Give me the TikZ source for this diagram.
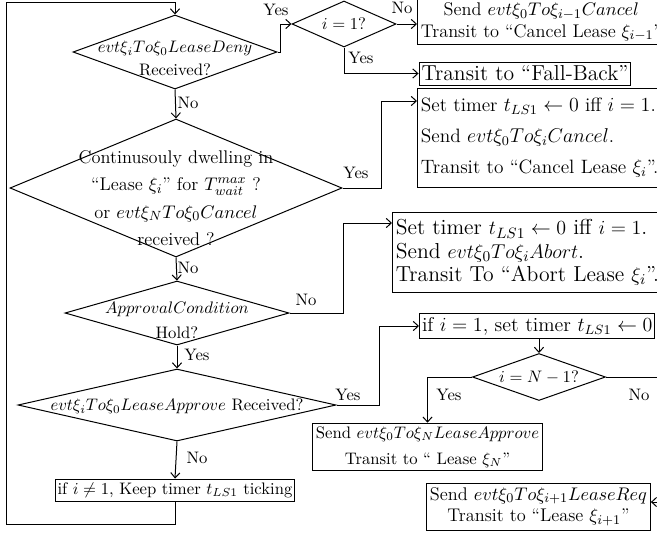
\documentclass[tikz,border=0pt]{standalone}
\usepackage{amsmath}
\usepackage{tikz}
\usetikzlibrary{positioning, shapes.geometric, arrows.meta}
\tikzset{>={Straight Barb[length=3pt,width=5.5pt]}}
\tikzset{
    decision/.style = {diamond, draw, inner sep=0pt},
    dtext/.style = {align=center, inner sep=0pt, font=\fontsize{10}{14}\selectfont},
    process/.style = {rectangle, draw, inner sep=2pt, align=center},
    lbl/.style = {inner sep=0pt, font=\fontsize{10}{12}\selectfont}
}

\begin{document}
\begin{tikzpicture}[x=0.6pt, y=-0.6pt, line width=0.6pt]
		\useasboundingbox (0,0) rectangle (657,533);
		\clip (0,0) rectangle (657,533);
		% decisions
		\node (deny) [decision, minimum width=122.4pt, minimum height=44.4pt] at (175,52) {};
		\node (denytxt) [dtext] at ([yshift=-4pt]deny) {$evt\xi_i To\xi_0 LeaseDeny$\\Received?};
		\node (ione) [decision, minimum width=62.4pt, minimum height=27.6pt] at (344,24) {};
		\node (ionetxt) [dtext] at (ione) {$i=1?$};
		\node (dwell) [decision, minimum width=199.2pt, minimum height=82.8pt] at (176,188) {};
		\node (dwelltxt) [dtext, font=\fontsize{11}{16.5}\selectfont] at ([yshift=-6pt]dwell) {Continusouly dwelling in\\``Lease $\xi_i$'' for $T_{wait}^{max}$ ?\\or $evt\xi_N To\xi_0 Cancel$\\received ?};
		\node (approval) [decision, minimum width=134.4pt, minimum height=38.4pt] at (177,313) {};
		\node (approvaltxt) [dtext, font=\fontsize{10}{15}\selectfont] at ([yshift=-4.5pt]approval) {$ApprovalCondition$\\Hold?};
		\node (approve) [decision, minimum width=190.8pt, minimum height=43.2pt] at (177,405) {};
		\node (approvetxt) [dtext] at ([yshift=-1pt]approve) {$evt\xi_i To\xi_0 LeaseApprove$ Received?};
		\node (ilast) [decision, minimum width=79.8pt, minimum height=28.2pt] at (539,377) {};
		\node (ilasttxt) [dtext] at (ilast) {$i=N-1?$};
		% actions
		\node (cancelprev) [process, anchor=west, minimum height=26.4pt, font=\fontsize{11}{13}\selectfont] at (417,22) {Send $evt\xi_0 To\xi_{i-1}Cancel$\\Transit to ``Cancel Lease $\xi_{i-1}$''};
		\node (fallback) [process, inner sep=1.5pt, minimum height=13.8pt, font=\fontsize{13}{15}\selectfont] at (525,73.5) {Transit to ``Fall-Back''};
		\node (cancelcur) [process, align=left, anchor=north west, inner sep=2pt, minimum height=59.4pt, font=\fontsize{11.6}{18.6}\selectfont] at (417,88) {Set timer $t_{LS1}\leftarrow 0$ iff $i=1$.\\Send $evt\xi_0 To\xi_i Cancel$.\\Transit to ``Cancel Lease $\xi_i$''.};
		\node (abort) [process, align=left, anchor=north west, inner sep=2pt, minimum height=48pt, font=\fontsize{13}{14}\selectfont] at (392,212) {Set timer $t_{LS1}\leftarrow 0$ iff $i=1$.\\Send $evt\xi_0 To\xi_i Abort$.\\Transit To ``Abort Lease $\xi_i$''.};
		\node (settimer) [process, anchor=west, inner sep=1.5pt, minimum height=15pt, font=\fontsize{12}{14}\selectfont] at (419,326) {if $i=1$, set timer $t_{LS1}\leftarrow 0$};
		\node (sendN) [process, minimum height=27.6pt, font=\fontsize{10}{15.6}\selectfont] at (427.5,447) {Send $evt\xi_0 To\xi_N LeaseApprove$\\Transit to `` Lease $\xi_N$''};
		\node (keep) [process, inner sep=1.5pt, minimum height=13.2pt, font=\fontsize{10}{12}\selectfont] at (175,490) {if $i\neq 1$, Keep timer $t_{LS1}$ ticking};
		\node (sendnext) [process, minimum height=28.2pt, font=\fontsize{11}{13}\selectfont] at (538.5,506.5) {Send $evt\xi_0 To\xi_{i+1}LeaseReq$\\Transit to ``Lease $\xi_{i+1}$''};
		% free ends
		\coordinate (loopbl) at (6,524);
		\coordinate (looptl) at (6,2);
		\coordinate (offout) at (670,377);
		\coordinate (offin) at (670,502);
		% connectors
		\draw [->] (deny.east) -- ++(3,0) |- (ione.west);
		\draw [->] (ione.east) -- (ione.east -| cancelprev.west);
		\draw [->] (ione.south) |- (fallback.west);
		\draw [->] (deny.south) -- (dwell.north);
		\draw [->] (dwell.east) -- ++(39,0) |- ([yshift=-7.8pt]cancelcur.north west);
		\draw [->] (dwell.south) -- (approval.north);
		\draw [->] (approval.east) -- ++(54,0) |- ([yshift=-6.6pt]abort.north west);
		\draw [->] (approval.south) -- (approve.north);
		\draw [->] (approve.east) -- ++(43,0) |- (settimer.west);
		\draw [->] (approve.south) -- (keep.north);
		\draw [->] (ilast.north |- settimer.south) -- (ilast.north);
		\draw [->] (ilast.west) -| (sendN.north);
		\draw (ilast.east) -- (offout);
		\draw [->] (offin) -- (offin -| sendnext.east);
		\draw [->] (keep.south) |- (loopbl) -- (looptl) -| (deny.north);
		% labels
		\node (yes1) [lbl] at (276,10) {Yes};
		\node (no1) [lbl] at (402,8) {No};
		\node (yes2) [lbl] at (361,58) {Yes};
		\node (no2) [lbl] at (188,103) {No};
		\node (yes3) [lbl] at (356,173) {Yes};
		\node (no3) [lbl] at (188,268) {No};
		\node (no4) [lbl] at (306,300) {No};
		\node (yes4) [lbl] at (197,355) {Yes};
		\node (yes5) [lbl] at (348,395) {Yes};
		\node (no5) [lbl] at (197,458) {No};
		\node (yes6) [lbl] at (449,395) {Yes};
		\node (no6) [lbl] at (639,395) {No};
	\end{tikzpicture}
\end{document}
